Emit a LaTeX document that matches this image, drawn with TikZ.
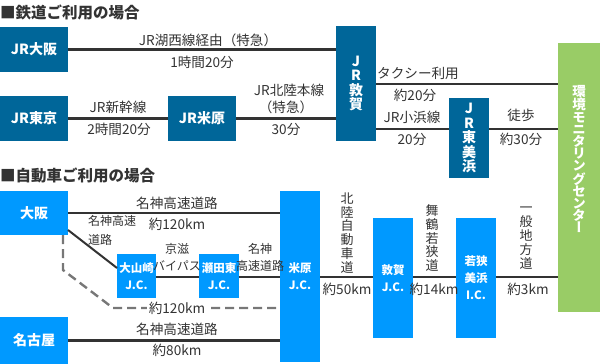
\documentclass[tikz,border=0pt]{standalone}
\usepackage{fontspec}
\setmainfont{Noto Sans CJK JP}
\newfontfamily\vfont[RawFeature=+vert]{Noto Sans CJK JP}
\definecolor{jrblue}{HTML}{006699}
\definecolor{carblue}{HTML}{0099FF}
\definecolor{gbox}{HTML}{99CC66}
\definecolor{txt}{HTML}{333333}
\definecolor{dashgray}{HTML}{777777}
\begin{document}
\begin{tikzpicture}[x=1pt,y=-1pt,
  jr/.style={fill=jrblue, text=white, font=\bfseries\fontsize{14}{14.5}\selectfont, inner sep=0, outer sep=0, anchor=north west, align=center},
  car/.style={fill=carblue, text=white, font=\bfseries\fontsize{11.5}{17}\selectfont, inner sep=0, outer sep=0, anchor=north west, align=center},
  bigcar/.style={car, font=\bfseries\fontsize{14}{16}\selectfont},
  lbl/.style={text=txt, font=\fontsize{13.6}{14}\selectfont, inner sep=0},
  slbl/.style={text=txt, font=\fontsize{12}{17}\selectfont, inner sep=0, align=center},
  vlbl/.style={text=txt, font=\fontsize{13}{13.9}\selectfont, inner sep=0, align=center},
  ttl/.style={text=txt, font=\bfseries\fontsize{15.5}{16}\selectfont, inner sep=0, anchor=west},
  road/.style={draw=txt, line width=2.6pt},
  droad/.style={draw=dashgray, line width=2.4pt, dash pattern=on 9pt off 5pt}]
\useasboundingbox (0,0) rectangle (600,364);

% ---------- railway ----------
\node[ttl] (t1) at (0,12) {■鉄道ご利用の場合};
\node[jr, minimum width=68pt, minimum height=45pt] (jrosaka) at (0,27) {JR大阪};
\node[jr, minimum width=68pt, minimum height=45pt] (jrtokyo) at (0,96) {JR東京};
\node[jr, minimum width=68pt, minimum height=45pt] (jrmaibara) at (168,96) {JR米原};
\node[jr, minimum width=40pt, minimum height=115pt] (jrtsuruga) at (336,26) {J\\R\\敦\\賀};
\node[jr, minimum width=40pt, minimum height=80pt] (jrmihama) at (449,98) {J\\R\\東\\美\\浜};
\node[fill=gbox, inner sep=0, outer sep=0, anchor=north west, minimum width=42pt, minimum height=269pt] (center) at (558,43) {};
\node[text=white, font=\vfont\bfseries\fontsize{13.5}{12.2}\selectfont, inner sep=0, align=center] (centertext) at (579,159) {環\\境\\モ\\ニ\\タ\\リ\\ン\\グ\\セ\\ン\\タ\\ー};

\coordinate (ytaxi) at (0,84);
\coordinate (yobama) at (0,129);

\draw[road] (jrosaka.east) -- (jrtsuruga.west |- jrosaka.east);
\node[lbl] (l1) at (208,40) {JR湖西線経由（特急）};
\node[lbl] (l2) at (202,62) {1時間20分};

\draw[road] (jrtokyo.east) -- (jrmaibara.west);
\node[lbl] (l3) at (118,107) {JR新幹線};
\node[lbl] (l4) at (119,129) {2時間20分};

\draw[road] (jrmaibara.east) -- (jrtsuruga.west |- jrmaibara.east);
\node[lbl] (l5) at (289,90) {JR北陸本線};
\node[lbl] (l6) at (286,107) {（特急）};
\node[lbl] (l7) at (286,129) {30分};

\draw[road] (jrtsuruga.east |- ytaxi) -- (center.west |- ytaxi);
\node[lbl] (l8) at (418,73) {タクシー利用};
\node[lbl] (l9) at (415,95) {約20分};

\draw[road] (jrtsuruga.east |- yobama) -- (jrmihama.west |- yobama);
\node[lbl] (l10) at (412,117) {JR小浜線};
\node[lbl] (l11) at (412,139) {20分};

\draw[road] (jrmihama.east |- yobama) -- (center.west |- yobama);
\node[lbl] (l12) at (521,115) {徒歩};
\node[lbl] (l13) at (521,139) {約30分};

% ---------- car ----------
\node[ttl] (t2) at (0,175) {■自動車ご利用の場合};
\node[bigcar, minimum width=68pt, minimum height=44pt] (osaka) at (0,191) {大阪};
\node[car, minimum width=39pt, minimum height=44pt] (oyama) at (117,254) {大山崎\\J.C.};
\node[car, minimum width=40pt, minimum height=44pt] (seta) at (199,254) {瀬田東\\J.C.};
\node[car, minimum width=40pt, minimum height=171pt] (maibara) at (280,191) {米原\\J.C.};
\node[car, minimum width=40pt, minimum height=120pt] (tsuruga) at (373,218) {敦賀\\J.C.};
\node[car, minimum width=40pt, minimum height=120pt] (mihama) at (456,218) {若狭\\美浜\\I.C.};
\node[bigcar, minimum width=68pt, minimum height=47pt] (nagoya) at (0,317) {名古屋};

\coordinate (ycar) at (0,277);

\draw[road] (osaka.east) -- (maibara.west |- osaka.east);
\node[lbl] (c1) at (177,203) {名神高速道路};
\node[lbl] (c2) at (177,224) {約120km};
\node[slbl, anchor=north west, align=left, font=\fontsize{12}{19}\selectfont] (c3) at (88,215) {名神高速\\道路};

\draw[road, line width=2pt] ([yshift=5pt]osaka.south east) -- ([yshift=8pt]oyama.west);
\draw[road] (oyama.east |- ycar) -- (seta.west |- ycar);
\node[slbl] (c4) at (177,257) {京滋\\バイパス};
\draw[road] (seta.east |- ycar) -- (maibara.west |- ycar);
\node[slbl] (c5) at (260,257) {名神\\高速道路};

\draw[droad] ([xshift=-5pt]osaka.south east) -- ++(0,35) -- ++(50,38) -- (maibara.west |- 0,308);
\node[lbl, fill=white, inner xsep=2pt] (c6) at (177,308) {約120km};

\draw[road] (nagoya.east) -- (maibara.west |- nagoya.east);
\node[lbl] (c7) at (177,329) {名神高速道路};
\node[lbl] (c8) at (177,350) {約80km};

\draw[road] (maibara.east |- ycar) -- (tsuruga.west |- ycar);
\node[vlbl] (c9) at (347,233) {北\\陸\\自\\動\\車\\道};
\node[lbl] (c10) at (347,289) {約50km};

\draw[road] (tsuruga.east |- ycar) -- (mihama.west |- ycar);
\node[vlbl] (c11) at (432,238) {舞\\鶴\\若\\狭\\道};
\node[lbl] (c12) at (434,289) {約14km};

\draw[road] (mihama.east |- ycar) -- (center.west |- ycar);
\node[vlbl] (c13) at (526,238) {一\\般\\地\\方\\道};
\node[lbl] (c14) at (528,289) {約3km};
\end{tikzpicture}
\end{document}
